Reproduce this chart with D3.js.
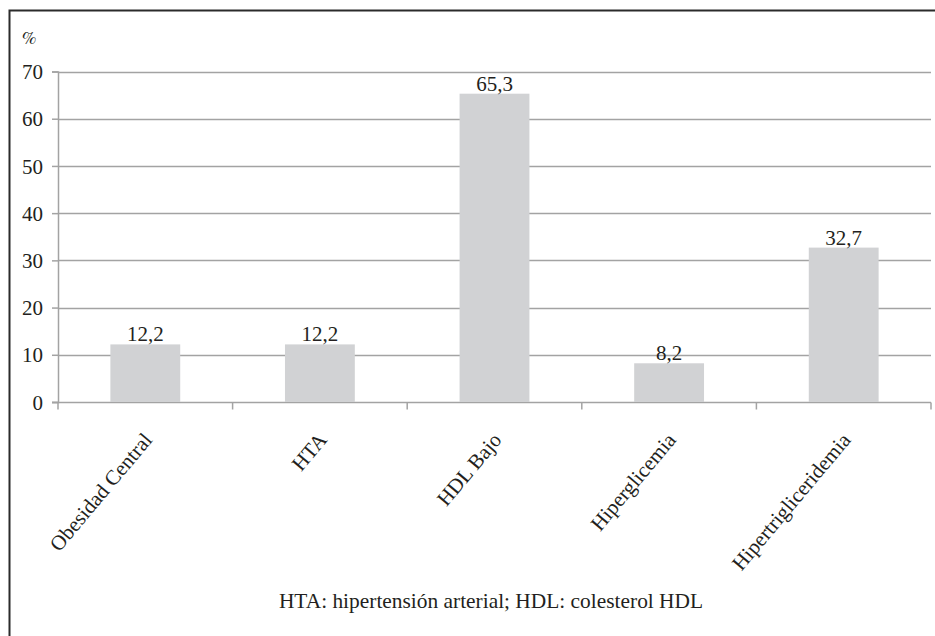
<!DOCTYPE html>
<html>
<head>
<meta charset="utf-8">
<script src="https://cdn.jsdelivr.net/npm/d3@7"></script>
<style>
  html, body { margin: 0; padding: 0; background: #fff; }
  svg { display: block; }
</style>
</head>
<body>
<svg id="chart" width="935" height="636"></svg>
<script>
// Componentes del síndrome metabólico (%)
const categories = ["Obesidad Central", "HTA", "HDL Bajo", "Hiperglicemia", "Hipertrigliceridemia"];
const values = [12.2, 12.2, 65.3, 8.2, 32.7];
const valueLabels = ["12,2", "12,2", "65,3", "8,2", "32,7"];
const yTicks = [0, 10, 20, 30, 40, 50, 60, 70];
const yUnit = "%";
const footnote = "HTA: hipertensión arterial; HDL: colesterol HDL";

const FONT = '"Liberation Serif"';
const INK = "#231f20";

const svg = d3.select("#chart");
const W = 935, H = 636;
const margin = { left: 58, right: 4 };
const innerW = W - margin.left - margin.right;

// Outer frame (left and top edges visible)
svg.append("path")
  .attr("d", `M9.5,${H} L9.5,10.5 L${W},10.5`)
  .attr("fill", "none")
  .attr("stroke", "#2b2b2b")
  .attr("stroke-width", 2);

const x = d3.scaleBand().domain(categories).range([margin.left, margin.left + innerW]);
const y = d3.scaleLinear().domain([0, 70]).range([402, 71.5]);

const axisColor = "#a3a3a3";

// Horizontal gridlines
svg.append("g").selectAll("line").data(yTicks.filter(d => d > 0)).join("line")
  .attr("x1", margin.left).attr("x2", margin.left + innerW)
  .attr("y1", d => Math.round(y(d)) + 0.5).attr("y2", d => Math.round(y(d)) + 0.5)
  .attr("stroke", axisColor).attr("stroke-width", 1.5);

// Y axis
const yAxis = svg.append("g")
  .attr("transform", `translate(${margin.left},0)`)
  .call(d3.axisLeft(y).tickValues(yTicks).tickSize(6).tickPadding(9).tickFormat(d3.format("d")));
yAxis.attr("font-family", null).attr("font-size", null);
yAxis.select(".domain").attr("stroke", axisColor).attr("stroke-width", 1.5);
yAxis.selectAll(".tick line").attr("stroke", axisColor).attr("stroke-width", 1.5);
yAxis.selectAll(".tick text")
  .style("font-family", FONT).style("font-size", "21px")
  .attr("fill", INK).attr("dy", "0.34em");

// X axis with ticks between categories
const xAxisY = Math.round(y(0)) + 0.5;
svg.append("line")
  .attr("x1", margin.left - 6).attr("x2", margin.left + innerW)
  .attr("y1", xAxisY).attr("y2", xAxisY)
  .attr("stroke", axisColor).attr("stroke-width", 1.5);
const boundaries = categories.map(c => x(c)).concat([margin.left + innerW]);
svg.append("g").selectAll("line").data(boundaries).join("line")
  .attr("x1", d => d).attr("x2", d => d)
  .attr("y1", xAxisY).attr("y2", xAxisY + 7)
  .attr("stroke", axisColor).attr("stroke-width", 1.5);

// Bars
const barW = x.bandwidth() / 2.5;
svg.append("g").selectAll("rect").data(values).join("rect")
  .attr("x", (d, i) => x(categories[i]) + (x.bandwidth() - barW) / 2)
  .attr("y", d => y(d))
  .attr("width", barW)
  .attr("height", d => y(0) - y(d))
  .attr("fill", "#d1d2d4");

// Value labels
svg.append("g").selectAll("text").data(values).join("text")
  .attr("x", (d, i) => x(categories[i]) + x.bandwidth() / 2)
  .attr("y", d => y(d) - 3)
  .attr("text-anchor", "middle")
  .style("font-family", FONT).style("font-size", "21px")
  .attr("fill", INK)
  .text((d, i) => valueLabels[i]);

// Rotated category labels
svg.append("g").selectAll("text").data(categories).join("text")
  .attr("text-anchor", "end")
  .style("font-family", FONT).style("font-size", "21px")
  .attr("fill", INK)
  .attr("transform", d => `translate(${x(d) + x.bandwidth() / 2 + 8},${xAxisY + 38}) rotate(-50)`)
  .text(d => d);

// Unit label
svg.append("text")
  .attr("x", 22).attr("y", 44)
  .style("font-family", '"FreeSerif"').style("font-size", "18px")
  .attr("fill", INK)
  .text(yUnit);

// Footnote
svg.append("text")
  .attr("x", 491).attr("y", 608)
  .attr("text-anchor", "middle")
  .style("font-family", FONT).style("font-size", "21.4px")
  .attr("fill", INK)
  .text(footnote);
</script>
</body>
</html>
